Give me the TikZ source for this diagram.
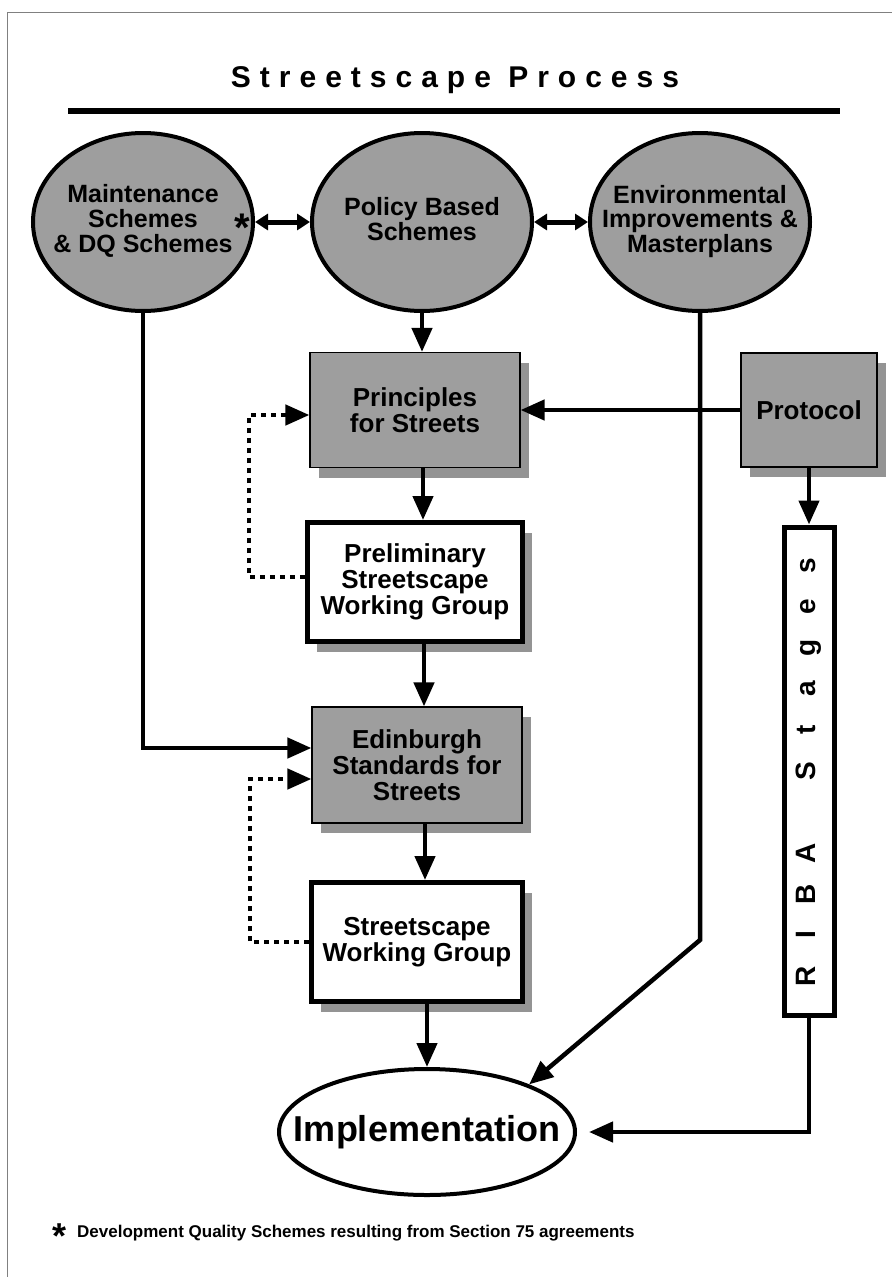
\documentclass[tikz,border=0pt]{standalone}
\usepackage{fontspec}
\setmainfont{Liberation Sans}
\usepackage{graphicx}
\usepackage{tikz}
\usetikzlibrary{arrows.meta,shapes.geometric,shadows}

\definecolor{halftone}{gray}{0.62}
\definecolor{shadowgray}{gray}{0.58}
\newcommand{\ovaltext}[2][0pt]{\raisebox{#1}{\makebox[0pt]{\begin{tabular}{@{}c@{}}#2\end{tabular}}}}
\newcommand{\ribaletter}[1]{\makebox[41pt]{#1}}

\begin{document}
\begin{tikzpicture}[x=1pt,y=-1pt,
  scheme/.style={ellipse,draw,line width=4pt,fill=halftone,minimum width=220pt,minimum height=178pt,inner sep=0pt,font=\fontsize{25}{23}\selectfont\bfseries},
  graybox/.style={rectangle,draw,line width=1.2pt,fill=halftone,inner sep=0pt,align=center,font=\fontsize{26}{26}\selectfont\bfseries,drop shadow={shadow xshift=9pt,shadow yshift=-10pt,opacity=1,fill=shadowgray}},
  whitebox/.style={graybox,fill=white,line width=5pt},
  ribabox/.style={rectangle,draw,line width=5pt,fill=white,inner sep=0pt,font=\fontsize{28}{28}\selectfont\bfseries},
  arr/.style={line width=4.5pt,-{Triangle[length=24pt,width=20pt]}},
  twoway/.style={line width=5pt,{Triangle[length=13pt,width=16pt]}-{Triangle[length=13pt,width=16pt]}},
  feedback/.style={line width=4.5pt,dash pattern=on 5pt off 5pt,-{Triangle[length=24pt,width=20pt]}}]
\useasboundingbox (0,0) rectangle (892,1277);
\draw[line width=1pt,gray] (7,1277) -- (7,12) -- (892,12);

\node (title) at (455,80) {\fontsize{30}{32}\selectfont\bfseries\addfontfeature{LetterSpace=30}Streetscape Process};
\draw[line width=6pt] (68,111) -- (840,111);

\node[scheme] (maint) at (143,222) {\ovaltext[8pt]{Maintenance\\Schemes\\\& DQ Schemes}};
\node[scheme] (policy) at (422,222) {\ovaltext[5pt]{Policy Based\\Schemes}};
\node[scheme] (env) at (700,222) {\ovaltext{Environmental\\Improvements \&\\Masterplans}};
\node[inner sep=0pt] (star) at (242,228) {\fontsize{40}{40}\selectfont\bfseries *};
\draw[twoway] (maint) -- (policy);
\draw[twoway] (policy) -- (env);

\node[graybox,minimum width=210pt,minimum height=115pt] (princ) at (415,410) {Principles\\for Streets};
\node[whitebox,minimum width=215pt,minimum height=119pt] (prelim) at (415,582) {Preliminary\\Streetscape\\Working Group};
\node[graybox,minimum width=210pt,minimum height=116pt] (edin) at (417,765) {Edinburgh\\Standards for\\Streets};
\node[whitebox,minimum width=211pt,minimum height=119pt] (swg) at (417,942) {Streetscape\\Working Group};
\node[graybox,minimum width=136pt,minimum height=114pt] (protocol) at (809,410) {Protocol};
\node[ribabox,minimum width=50pt,minimum height=488pt] (riba) at (809,771) {\rotatebox{90}{\ribaletter{R}\ribaletter{I}\ribaletter{B}\ribaletter{A}\ribaletter{}\ribaletter{S}\ribaletter{t}\ribaletter{a}\ribaletter{g}\ribaletter{e}\ribaletter{s}}};
\node[ellipse,draw,line width=4pt,fill=white,minimum width=296pt,minimum height=126pt,inner sep=0pt,font=\fontsize{36}{36}\selectfont\bfseries] (impl) at (427,1132) {\makebox[0pt]{Implementation}};
\coordinate (bend) at (700,940);

\draw[arr] (policy.south) -- (policy.south |- princ.north);
\draw[arr] ([xshift=8pt]princ.south) -- ([xshift=8pt]prelim.north);
\draw[arr] ([xshift=9pt]prelim.south) -- ([xshift=9pt]prelim.south |- edin.north);
\draw[arr] ([xshift=8pt]edin.south) -- ([xshift=8pt]swg.north);
\draw[arr] ([xshift=10pt]swg.south) -- (impl.north);
\draw[arr] (env.south) -- (bend) -- (impl.25);
\draw[arr] (protocol.west) -- (princ.east);
\draw[arr] (protocol.south) -- (riba.north);
\draw[arr] (maint.south) |- ([yshift=17pt]edin.west);
\draw[arr,shorten >=12pt] (riba.south) |- (impl.east);
\draw[feedback] ([yshift=5pt]prelim.west) -- ++(-56,0) |- ([yshift=-5pt]princ.west);
\draw[feedback] (swg.west) -- ++(-59,0) |- ([yshift=-14pt]edin.west);

\node[inner sep=0pt] (notestar) at (60,1236) {\fontsize{36}{36}\selectfont\bfseries *};
\node[anchor=west,inner sep=0pt] (note) at (77,1233) {\fontsize{17}{20}\selectfont\bfseries Development Quality Schemes resulting from Section 75 agreements};
\end{tikzpicture}
\end{document}
